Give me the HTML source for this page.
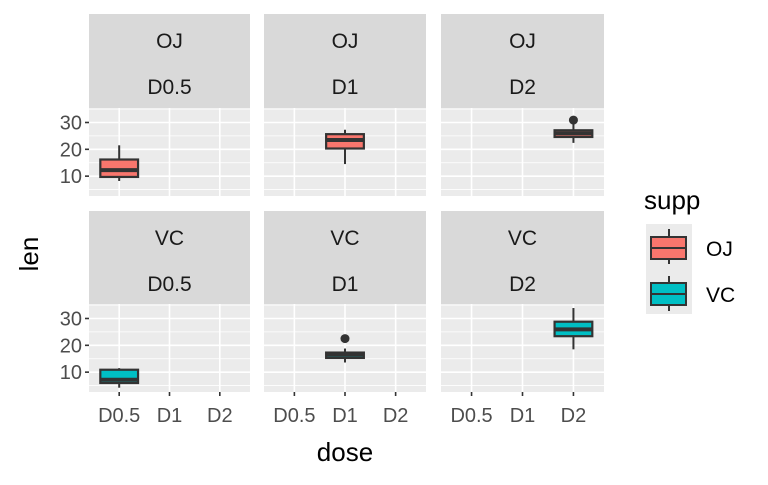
<!DOCTYPE html>
<html><head><meta charset="utf-8"><style>
body{margin:0;background:#fff;}
svg text{font-family:"Liberation Sans",Arial,sans-serif;}
</style></head><body>
<svg width="768" height="480" xmlns="http://www.w3.org/2000/svg" id="chart"></svg>
<script>
const supps = ["OJ","VC"];
const doses = ["D0.5","D1","D2"];
const yTicks = [10,20,30];
// per facet: [supp index, dose index, lower whisker, q1, median, q3, upper whisker]
const boxStats = [
  [0,0, 8.2, 9.7, 12.25, 16.2, 21.5],
  [0,1, 14.5, 20.3, 23.45, 25.65, 27.3],
  [0,2, 22.4, 24.6, 25.95, 27.1, 29.5],
  [1,0, 4.2, 5.95, 7.15, 10.9, 11.5],
  [1,1, 13.6, 15.3, 16.5, 17.3, 18.8],
  [1,2, 18.5, 23.4, 25.95, 28.8, 33.9]
];
const outliers = [[0,2,30.9],[1,1,22.5]];
const fills = ["#F8766D","#00BFC4"];

const NS="http://www.w3.org/2000/svg";
const svg=document.getElementById('chart');
function el(tag,attrs,parent){const e=document.createElementNS(NS,tag);for(const k in attrs)e.setAttribute(k,attrs[k]);(parent||svg).appendChild(e);return e;}
const colX=[[89,250],[264,426],[441,604]];
const rowY=[{s:14,p:108,b:196},{s:211,p:304,b:392}];
const yMin=2.6,yMax=35.4;
function yScale(r,v){const R=rowY[r];return R.b-(v-yMin)/(yMax-yMin)*(R.b-R.p);}
function xScale(c,i){const [a,b]=colX[c];const w=(b-a)/3.2;return a+w*(0.6+i);}
const bw=(colX[0][1]-colX[0][0])/3.2;

for(let r=0;r<2;r++)for(let c=0;c<3;c++){
  const [x0,x1]=colX[c];const R=rowY[r];
  const strip=el('rect',{x:x0,y:R.s,width:x1-x0,height:R.p-R.s,fill:'#D9D9D9'});
  
  
  const t1=el('text',{x:(x0+x1)/2,y:R.s+34,'text-anchor':'middle','font-size':21,fill:'#1A1A1A'});t1.textContent=supps[r];
  
  
  const t2=el('text',{x:(x0+x1)/2,y:R.s+80,'text-anchor':'middle','font-size':21,fill:'#1A1A1A'});t2.textContent=doses[c];
  
  
  const p=el('rect',{x:x0,y:R.p,width:x1-x0,height:R.b-R.p,fill:'#EBEBEB'});
  
  
  for(let v=5;v<=35;v+=10){const y=yScale(r,v);if(y>R.p&&y<R.b)el('line',{x1:x0,x2:x1,y1:y,y2:y,stroke:'#fff','stroke-width':0.8});}
  yTicks.forEach(v=>{const y=yScale(r,v);el('line',{x1:x0,x2:x1,y1:y,y2:y,stroke:'#fff','stroke-width':1.6});});
  doses.forEach((d,i)=>{const x=xScale(c,i);el('line',{x1:x,x2:x,y1:R.p,y2:R.b,stroke:'#fff','stroke-width':1.6});});
  if(c===0){yTicks.forEach(v=>{const y=yScale(r,v);el('line',{x1:x0-4,x2:x0,y1:y,y2:y,stroke:'#333','stroke-width':1.6});
    const t=el('text',{x:x0-7,y:y+7,'text-anchor':'end','font-size':20,fill:'#4D4D4D'});t.textContent=v;
    
    });}
  if(r===1){doses.forEach((d,i)=>{const x=xScale(c,i);el('line',{x1:x,x2:x,y1:R.b,y2:R.b+4,stroke:'#333','stroke-width':1.6});
    const t=el('text',{x:x,y:R.b+30,'text-anchor':'middle','font-size':20,fill:'#4D4D4D'});t.textContent=d;
    
    });}
}
boxStats.forEach(s=>{
  const [r,c,lo,q1,med,q3,hi]=s;const x=xScale(c,c);
  const g=el('g',{});
  
  
  el('line',{x1:x,x2:x,y1:yScale(r,lo),y2:yScale(r,hi),stroke:'#333','stroke-width':2},g);
  el('rect',{x:x-bw*0.375,y:yScale(r,q3),width:bw*0.75,height:yScale(r,q1)-yScale(r,q3),fill:fills[r],stroke:'#333','stroke-width':2.2},g);
  el('line',{x1:x-bw*0.375,x2:x+bw*0.375,y1:yScale(r,med),y2:yScale(r,med),stroke:'#333','stroke-width':4},g);
});
outliers.forEach(o=>{
  const c=el('circle',{cx:xScale(o[1],o[1]),cy:yScale(o[0],o[2]),r:4.5,fill:'#333'});
  
  
});
</script>
<svg width="768" height="480" style="position:absolute;left:0;top:0" xmlns="http://www.w3.org/2000/svg">
<text x="345" y="461" text-anchor="middle" font-size="26" fill="#000">dose</text>
<text x="0" y="0" transform="translate(38,254) rotate(-90)" text-anchor="middle" font-size="26" fill="#000">len</text>
<text x="644" y="209" font-size="26" fill="#000">supp</text>
<g>
<rect x="646" y="224" width="46" height="45" fill="#EBEBEB"/>
<line x1="669" x2="669" y1="229" y2="264" stroke="#333" stroke-width="2"/>
<rect x="651" y="237" width="35" height="22" fill="#F8766D" stroke="#333" stroke-width="2"/>
<line x1="651" x2="686" y1="248" y2="248" stroke="#333" stroke-width="2"/>
<text x="706" y="256" font-size="21" fill="#000">OJ</text>
</g>
<g>
<rect x="646" y="269" width="46" height="45" fill="#EBEBEB"/>
<line x1="669" x2="669" y1="276" y2="311" stroke="#333" stroke-width="2"/>
<rect x="651" y="283" width="35" height="22" fill="#00BFC4" stroke="#333" stroke-width="2"/>
<line x1="651" x2="686" y1="294" y2="294" stroke="#333" stroke-width="2"/>
<text x="706" y="302" font-size="21" fill="#000">VC</text>
</g>
</svg>
</body></html>
